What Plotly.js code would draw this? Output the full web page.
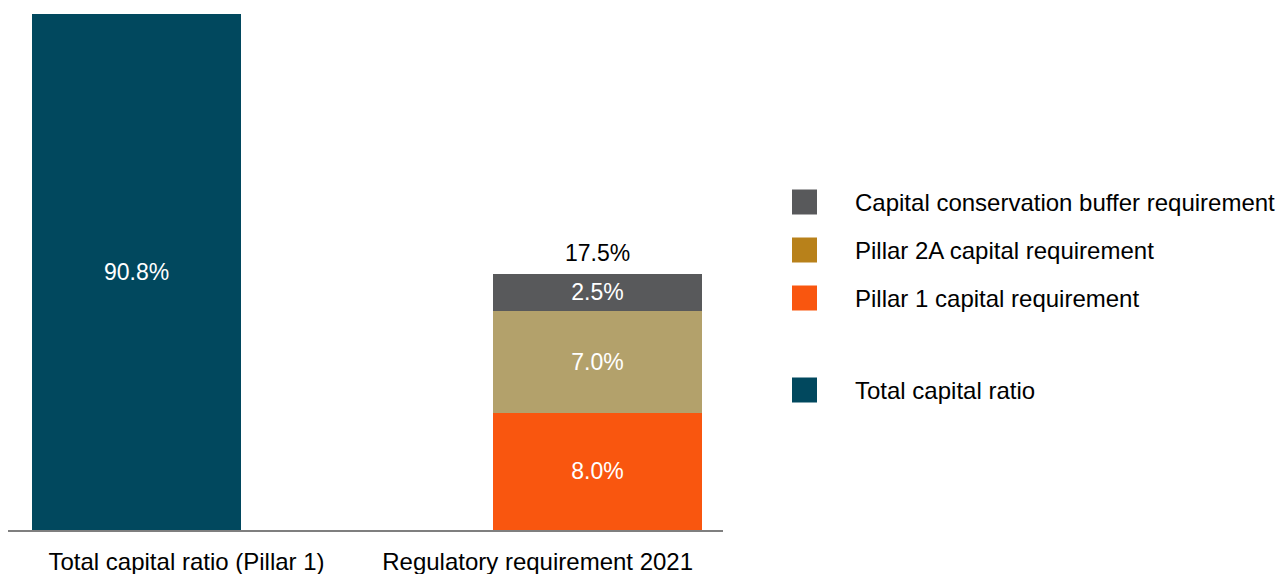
<!DOCTYPE html>
<html>
<head>
<meta charset="utf-8">
<script src="https://cdn.plot.ly/plotly-3.0.1.min.js"></script>
<style>
  html, body { margin: 0; padding: 0; background: #ffffff; }
  #chart { width: 1287px; height: 574px; }
</style>
</head>
<body>
<div id="chart"></div>
<script>
// ---- data ----
const categories = ['Total capital ratio (Pillar 1)', 'Regulatory requirement 2021'];
const totalCapitalRatio = [90.8, null];
const pillar1Requirement = [null, 8.0];
const pillar2ARequirement = [null, 7.0];
const bufferRequirement = [null, 2.5];

const legendNames = [
  'Capital conservation buffer requirement',
  'Pillar 2A capital requirement',
  'Pillar 1 capital requirement',
  'Total capital ratio'
];
const legendColors = ['#58595B', '#B8811A', '#F9560F', '#01485E'];

// ---- styling / geometry ----
const FONT = 'Liberation Sans, Arial, Helvetica, sans-serif';
const FS_NUM = 23;
const FS_TXT = 24;
const W = 1287, H = 574;
const M = { l: 8, r: 564, t: 14, b: 44 };
const plotW = W - M.l - M.r, plotH = H - M.t - M.b;
const xRange = [-0.5085, 1.528];
const yRange = [0, 35.27];
const barWidth = 0.595;
const offsetLeft = -0.440;
const offsetRight = -0.127;

const pct = v => (v == null ? '' : v.toFixed(1) + '%');

function barTrace(vals, name, color, offset, showText) {
  return {
    type: 'bar',
    name: name,
    x: categories,
    y: vals,
    offset: offset,
    width: barWidth,
    marker: { color: color, line: { width: 0 } },
    text: showText ? vals.map(pct) : vals.map(() => ''),
    textposition: 'inside',
    insidetextanchor: 'middle',
    textangle: 0,
    constraintext: 'none',
    insidetextfont: { family: FONT, size: FS_NUM, color: '#ffffff' },
    hoverinfo: 'skip',
    showlegend: false,
    cliponaxis: true
  };
}

const traces = [
  barTrace(totalCapitalRatio, 'Total capital ratio', '#01485E', offsetLeft, false),
  barTrace(pillar1Requirement, 'Pillar 1 capital requirement', '#F9560F', offsetRight, true),
  barTrace(pillar2ARequirement, 'Pillar 2A capital requirement', '#B3A16B', offsetRight, true),
  barTrace(bufferRequirement, 'Capital conservation buffer requirement', '#58595B', offsetRight, true)
];

// total above stacked bar
const stackTotal = [pillar1Requirement, pillar2ARequirement, bufferRequirement]
  .reduce((s, arr) => s + (arr[1] || 0), 0);

const annotations = [
  {
    // label of the (truncated) total capital ratio bar, centred in its visible part
    xref: 'x', yref: 'y',
    x: 0 + offsetLeft + barWidth / 2,
    y: Math.min(totalCapitalRatio[0], yRange[1]) / 2,
    xanchor: 'center', yanchor: 'middle',
    showarrow: false,
    text: pct(totalCapitalRatio[0]),
    font: { family: FONT, size: FS_NUM, color: '#ffffff' }
  },
  {
    xref: 'x', yref: 'y',
    x: 1 + offsetRight + barWidth / 2,
    y: stackTotal,
    yanchor: 'bottom', xanchor: 'center',
    yshift: 6,
    showarrow: false,
    text: pct(stackTotal),
    font: { family: FONT, size: FS_NUM, color: '#000000' }
  }
];

// custom legend (large square swatches)
const legendRowsPx = [202, 250, 298, 390];
const toPaperX = px => (px - M.l) / plotW;
const toPaperY = py => (H - M.b - py) / plotH;
const shapes = [];
legendNames.forEach((name, i) => {
  shapes.push({
    type: 'rect', xref: 'paper', yref: 'paper',
    xsizemode: 'pixel', ysizemode: 'pixel',
    xanchor: toPaperX(792), yanchor: toPaperY(legendRowsPx[i]),
    x0: 0, x1: 25, y0: -12.5, y1: 12.5,
    fillcolor: legendColors[i], line: { width: 0 }
  });
  annotations.push({
    xref: 'paper', yref: 'paper',
    x: toPaperX(853), y: toPaperY(legendRowsPx[i]),
    xanchor: 'left', yanchor: 'middle',
    showarrow: false, text: name,
    font: { family: FONT, size: FS_TXT, color: '#000000' }
  });
});

const layout = {
  width: W, height: H,
  margin: M,
  paper_bgcolor: '#ffffff',
  plot_bgcolor: '#ffffff',
  barmode: 'stack',
  showlegend: false,
  font: { family: FONT, size: FS_TXT, color: '#000000' },
  xaxis: {
    type: 'category',
    range: xRange,
    showline: true, linecolor: '#7F7F7F', linewidth: 2,
    ticks: '', showgrid: false, zeroline: false,
    ticklabelstandoff: 9,
    tickfont: { family: FONT, size: FS_TXT, color: '#000000' },
    fixedrange: true
  },
  yaxis: {
    range: yRange,
    visible: false,
    showgrid: false, zeroline: false,
    fixedrange: true
  },
  shapes: shapes,
  annotations: annotations
};

Plotly.newPlot('chart', traces, layout, { displayModeBar: false, staticPlot: true });
</script>
</body>
</html>
